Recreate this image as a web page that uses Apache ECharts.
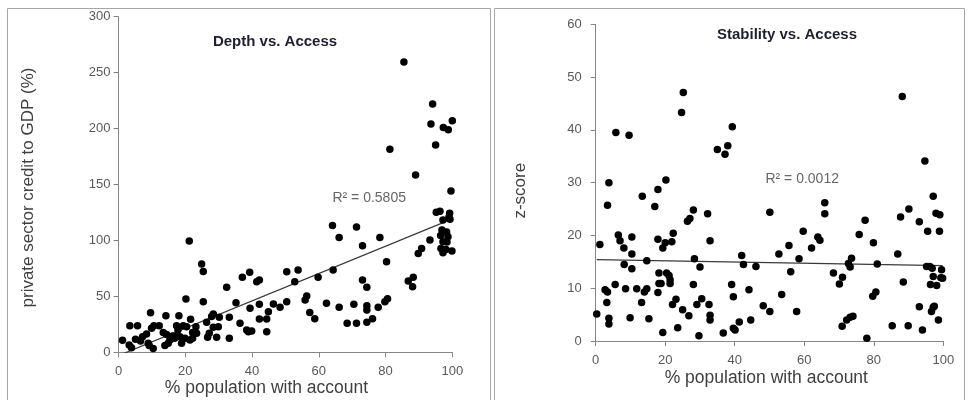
<!DOCTYPE html>
<html><head><meta charset="utf-8">
<script src="https://cdn.jsdelivr.net/npm/echarts@6/dist/echarts.min.js"></script>
<style>html,body{margin:0;padding:0;background:#fff}#c{width:969px;height:400px}</style>
</head><body><div id="c"></div>
<script>
// Depth vs. Access: [% population with account, private sector credit to GDP (%)]
const depthData = [
[1.2,10.7],[3.2,6.5],[3.9,4.1],[3.4,23.8],[5.7,23.8],[5.1,11.6],[6.6,10.1],[7.2,14],[8.4,16.4],[8.9,8],[9.2,6],[9.6,35.4],[9.9,21.4],[10.4,3.5],[10.6,23.8],[12.2,23.8],[13.4,17.8],[13.9,6],[14.2,32.7],[14.4,16],[14.9,8],[15.4,11],[16.2,14.5],[16.8,12.5],[17.2,13.9],[17.4,23.8],[17.8,20],[18.1,32.7],[18.4,14],[18.9,8],[19.4,23.8],[19.9,12.5],[20.2,47.6],[20.4,22.9],[21.2,99.5],[21.4,11],[21.6,29.5],[22.2,12.5],[22.2,17.8],[23.2,22.9],[23.4,17],[24.9,78.9],[25.4,72.3],[25.4,45.2],[26.4,26.8],[26.7,13.4],[27.2,17],[27.9,31.9],[28.4,34.2],[28.4,22.3],[29.4,13.4],[29.9,22.9],[30.2,31.3],[32.4,58.1],[33.2,31.3],[33.2,12.5],
[35.2,44.3],[36.4,25.9],[37.1,67],[38.4,19.9],[38.9,18.4],[39.9,19],[39.3,71.5],[39.4,39.3],[41.4,63.1],[42.2,64.6],[42.2,42.9],[42.2,29.8],[44.4,29.8],[44.4,18.4],[44.9,36.3],[46.4,43.2],[48.4,40.2],[50.4,72],[50.4,45.2],[52.8,63.1],[53.8,73.5],[55.9,46.8],[56.4,50.4],[57.3,35.5],[58.8,30.1],[59.8,67],[62.3,43.8],[64.1,113.4],[64.3,73.5],[66.1,102.7],[66.1,40.2],[68.5,25.9],[71.3,25.9],[70.5,42.9],[71.3,111.9],[73.1,95.3],[73.1,64.6],[74.4,58.1],[74.4,41.7],[74.4,37.8],[74.4,26.8],[76.1,30.1],[77.8,40.2],[78.3,102.7],[79.8,45.2],[80.6,47.9],[80.3,81],[81.3,181.4],[85.5,259.5],[86.8,63.8],[88.3,67],[88.1,58.7],[89.0,158.5],[89.8,88.4],[90.8,92.9],[93.3,100.4],[93.6,204],[94.1,222],[95.0,185.3],[97.3,201],[98.8,199],[100,207],[99.6,144.2],[95.2,125.1],[96.3,126.0],[99.2,124.2],[99,121],[97.2,118.2],[99.3,118.9],[96.9,109.3],[98.3,107.5],[96.5,104.3],[98.7,103.4],[97.2,98.9],[98.4,98.6],[96.6,92.9],[98.1,92.0],[97.2,89.1],[99.9,90.6]
];
// Stability vs. Access: [% population with account, z-score]
const stabilityData = [
[0.3,5.1],[1.2,18.3],[2.7,9.7],[3.4,9.3],[3.2,7.3],[3.4,25.7],[3.8,30],[3.8,4.3],[3.8,3.2],[5.6,10.7],[5.8,39.5],[6.5,20.1],[7.0,19.0],[8.1,17.6],[8.2,14.5],[8.6,9.9],[9.6,39],[9.9,4.4],[10.4,19.7],[10.4,16.5],[10.4,13.7],[11.8,9.9],[13.4,27.4],[13.2,7.3],[14,9.3],[14.7,9.9],[14.7,15.2],[15.3,4.2],[17,25.5],[17.9,28.7],[17.9,19.3],[17.9,9.2],[18.2,12.9],[18.8,10.9],[18.2,10.9],[19.3,1.6],[19.3,17.6],[20,18.6],[20.2,30.5],[20.4,12.9],[21.1,12.4],[21.4,11.6],[21.4,10.9],[21.9,18.8],[22.3,20.4],[22.1,6.9],[23.1,7.9],[23.6,2.5],[24.7,43.3],[25.2,47.1],[25,5.9],[26.4,22.7],[27.1,23.2],[26.8,4.8],[28.1,24.8],[28.4,15.6],[28.1,10.7],[29.1,6.9],[29.7,1],[30,14],[30.5,8],[32.2,24.1],[32.9,19],[32.6,6.9],[32.9,4.9],[32.9,4],[35,36.3],[37.2,35.4],[38,37],[36.7,1.5],[39.1,10.7],[39.3,40.6],[39.6,8.4],[39.6,2.4],[40.1,2.1],[41.3,3.6],[42,16.2],[42.5,14.5],[44.1,9.7],[44.6,4],[46.1,14.1],[48.2,6.7],[50.1,24.4],[50.1,5.6],[52.7,16.5],[53.5,8.8],[55.6,18.1],[56.1,13.1],[57.8,5.6],[58.5,15.6],[59.7,20.8],[62.1,17.6],[63.9,19.7],[64.5,19.1],[65.9,26.2],[65.9,24.1],[68.4,12.9],[70.1,10.8],[71,12.1],[70.9,2.8],[72.2,4],[73.2,4.5],[74,4.7],[72.7,14.7],[73.2,14],[73.6,15.7],[75.8,20.2],[77.5,22.9],[78,0.5],[79.7,8.5],[80.6,9.3],[79.9,18.6],[81,14.6],[85.3,2.9],[86.9,16.5],[87.7,23.5],[88.2,46.3],[88.5,11.2],[90.1,25],[89.9,2.9],[93.1,22.6],[93.1,6.5],[94,2.1],[94.7,34.1],[95.5,20.8],[95.2,14.1],[96.1,14.1],[96.3,10.7],[96.6,5.6],[97.1,6.4],[97.4,6.6],[97.1,27.4],[96.8,13.8],[97.1,12.2],[97.9,24.2],[98.1,10.5],[98.6,4],[98.9,20.8],[99,23.9],[99.3,12],[99.5,13.5],[99.8,11.9]
];
const titles = ['Depth vs. Access', 'Stability vs. Access'];
const xAxisName = '% population with account';
const yAxisNames = ['private sector credit to GDP (%)', 'z-score'];
const r2Labels = ['R\u00b2 = 0.5805', 'R\u00b2 = 0.0012'];
const r2Pos = [[75.1, 138.2], [59.4, 30.7]];
const yMax = [300, 60];
const yStep = [50, 10];

function fit(d) {
  const n = d.length;
  let sx = 0, sy = 0, sxx = 0, sxy = 0;
  d.forEach(p => { sx += p[0]; sy += p[1]; sxx += p[0] * p[0]; sxy += p[0] * p[1]; });
  const b = (n * sxy - sx * sy) / (n * sxx - sx * sx);
  const a = (sy - b * sx) / n;
  const xs = d.map(p => p[0]);
  const x0 = Math.min(...xs), x1 = Math.max(...xs);
  return [[x0, a + b * x0], [x1, a + b * x1]];
}

const FONT = 'Liberation Sans, Arial, sans-serif';
const chart = echarts.init(document.getElementById('c'), null, {renderer: 'canvas'});
const grids = [
  {left: 118.5, top: 16.7, width: 333.8, height: 335.6},
  {left: 595.7, top: 24.3, width: 347.6, height: 316.7}
];
const yLabelMargin = [8, 14];
function axisCommon() {
  return {
    axisLine: {show: true, lineStyle: {color: '#868686', width: 1}},
    axisTick: {show: true, inside: false, length: 5, lineStyle: {color: '#868686'}},
    splitLine: {show: false},
    axisLabel: {color: '#595959', fontSize: 13, fontFamily: FONT}
  };
}
const xAxes = [0, 1].map(i => {
  const a = Object.assign(axisCommon(), {type: 'value', gridIndex: i, min: 0, max: 100, interval: 20});
  a.axisLabel.margin = 13;
  return a;
});
const yAxes = [0, 1].map(i => {
  const a = Object.assign(axisCommon(), {type: 'value', gridIndex: i, min: 0, max: yMax[i], interval: yStep[i]});
  a.axisLabel.margin = yLabelMargin[i];
  return a;
});
const datas = [depthData, stabilityData];
const series = [];
[0, 1].forEach(i => {
  series.push({
    type: 'scatter', xAxisIndex: i, yAxisIndex: i, data: datas[i],
    symbol: 'circle', symbolSize: 7.5, itemStyle: {color: '#000', opacity: 1}, z: 3
  });
  series.push({
    type: 'line', xAxisIndex: i, yAxisIndex: i, data: fit(datas[i]), clip: true,
    symbol: 'none', lineStyle: {color: '#3a3a3a', width: 1.2}, z: 2, silent: true
  });
  series.push({
    type: 'scatter', xAxisIndex: i, yAxisIndex: i, data: [r2Pos[i]], symbolSize: 0,
    label: {show: true, position: 'inside', formatter: r2Labels[i], color: '#404040', fontSize: 14, fontFamily: FONT},
    silent: true, z: 4
  });
});
const nameFont = '17px ' + FONT;
chart.setOption({
  animation: false,
  backgroundColor: '#fff',
  grid: grids,
  xAxis: xAxes,
  yAxis: yAxes,
  series: series,
  graphic: [
    {type: 'rect', shape: {x: 7.5, y: 8.5, width: 483, height: 400}, style: {fill: null, stroke: '#a6a6a6', lineWidth: 1}, silent: true},
    {type: 'rect', shape: {x: 494.5, y: 8.5, width: 470, height: 400}, style: {fill: null, stroke: '#a6a6a6', lineWidth: 1}, silent: true},
    {type: 'text', x: 275, y: 42, style: {text: titles[0], textAlign: 'center', textVerticalAlign: 'middle', fill: '#1f1f2f', font: 'bold 15px ' + FONT}, silent: true},
    {type: 'text', x: 787, y: 34.5, style: {text: titles[1], textAlign: 'center', textVerticalAlign: 'middle', fill: '#1f1f2f', font: 'bold 15px ' + FONT}, silent: true},
    {type: 'text', x: 266.5, y: 388, style: {text: xAxisName, textAlign: 'center', textVerticalAlign: 'middle', fill: '#404040', font: '17.5px ' + FONT}, silent: true},
    {type: 'text', x: 766.3, y: 378.3, style: {text: xAxisName, textAlign: 'center', textVerticalAlign: 'middle', fill: '#404040', font: '17.5px ' + FONT}, silent: true},
    {type: 'text', x: 28, y: 187.5, rotation: Math.PI / 2, style: {text: yAxisNames[0], textAlign: 'center', textVerticalAlign: 'middle', fill: '#404040', font: nameFont}, silent: true},
    {type: 'text', x: 520, y: 190.7, rotation: Math.PI / 2, style: {text: yAxisNames[1], textAlign: 'center', textVerticalAlign: 'middle', fill: '#404040', font: nameFont}, silent: true}
  ]
});
</script></body></html>
